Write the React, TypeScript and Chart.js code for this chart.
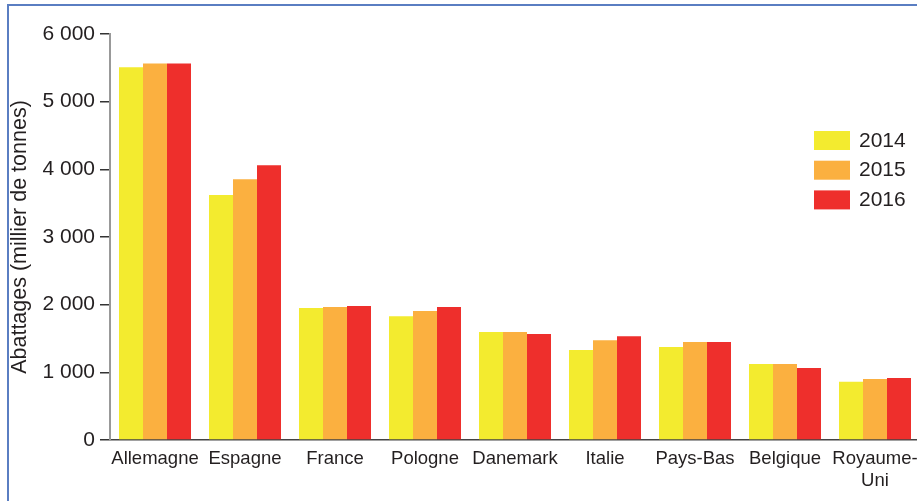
import React, { useEffect, useRef } from "react";
import { Chart, registerables } from "chart.js";

Chart.register(...registerables);

const categories: (string | string[])[] = [
  "Allemagne",
  "Espagne",
  "France",
  "Pologne",
  "Danemark",
  "Italie",
  "Pays-Bas",
  "Belgique",
  ["Royaume-", "Uni"],
];

const seriesLabels = ["2014", "2015", "2016"];
const values2014 = [5510, 3620, 1950, 1830, 1595, 1330, 1375, 1125, 860];
const values2015 = [5565, 3855, 1965, 1905, 1595, 1475, 1450, 1125, 900];
const values2016 = [5565, 4060, 1980, 1965, 1565, 1535, 1450, 1065, 915];
const seriesColors = ["#F3EB2F", "#FBB040", "#EE2F2C"];

const yTicks = [0, 1000, 2000, 3000, 4000, 5000, 6000];
const yTitle = "Abattages (millier de tonnes)";

const FONT = "'Liberation Sans', Arial, Helvetica, sans-serif";
const TEXT = "#231f20";

function fmt(v: number): string {
  const s = String(Math.round(v));
  return s.replace(/\B(?=(\d{3})+(?!\d))/g, " ");
}

const legendPlugin = {
  id: "insideLegend",
  afterDraw(chart: any) {
    const ctx = chart.ctx;
    ctx.save();
    const x = 814;
    const y0 = 131;
    const gap = 29.7;
    chart.data.datasets.forEach((ds: any, i: number) => {
      const y = y0 + i * gap;
      ctx.fillStyle = ds.backgroundColor;
      ctx.fillRect(x, y, 36, 19);
      ctx.fillStyle = TEXT;
      ctx.font = `21px ${FONT}`;
      ctx.textBaseline = "middle";
      ctx.textAlign = "left";
      ctx.fillText(ds.label, x + 45, y + 10);
    });
    ctx.restore();
  },
};

export default function App() {
  const ref = useRef<HTMLCanvasElement | null>(null);

  useEffect(() => {
    if (!ref.current) return;
    const allValues = [values2014, values2015, values2016];
    const chart = new Chart(ref.current, {
      type: "bar",
      data: {
        labels: categories,
        datasets: seriesLabels.map((label, i) => ({
          label,
          data: allValues[i],
          backgroundColor: seriesColors[i],
          borderWidth: 0,
          categoryPercentage: 0.8,
          barPercentage: 1.0,
        })),
      },
      options: {
        responsive: false,
        animation: false,
        layout: { padding: { top: 34, right: 10, left: 0, bottom: 0 } },
        plugins: {
          legend: { display: false },
          tooltip: { enabled: false },
        },
        scales: {
          x: {
            grid: { display: true, drawOnChartArea: false, drawTicks: false },
            border: { display: true, color: "#444", width: 1.5 },
            ticks: {
              color: TEXT,
              font: { family: FONT, size: 18.5 },
              padding: 8,
              maxRotation: 0,
              autoSkip: false,
            },
            afterFit: (s: any) => {
              s.height = 61;
            },
          },
          y: {
            min: 0,
            max: 6000,
            afterBuildTicks: (s: any) => {
              s.ticks = yTicks.map((v) => ({ value: v }));
            },
            grid: {
              display: true,
              drawOnChartArea: false,
              drawTicks: true,
              tickLength: 10,
              color: "#333",
              lineWidth: 1.5,
            },
            border: { display: true, color: "#999", width: 2 },
            ticks: {
              color: TEXT,
              font: { family: FONT, size: 21 },
              padding: 5,
              callback: (v: any) => fmt(Number(v)),
            },
            title: {
              display: true,
              text: yTitle,
              color: TEXT,
              font: { family: FONT, size: 21.5 },
              padding: { top: 7, bottom: 0 },
            },
            afterFit: (s: any) => {
              s.width = 110;
            },
          },
        },
      },
      plugins: [legendPlugin],
    });
    return () => chart.destroy();
  }, []);

  return (
    <div
      style={{
        position: "fixed",
        left: 0,
        top: 0,
        width: 917,
        height: 501,
        overflow: "hidden",
        background: "#fff",
      }}
    >
      <div
        style={{
          position: "absolute",
          left: 7,
          top: 4,
          width: 1000,
          height: 1000,
          borderLeft: "2px solid #5a7ec2",
          borderTop: "2px solid #5a7ec2",
        }}
      />
      <canvas
        ref={ref}
        width={930}
        height={501}
        style={{ position: "absolute", left: 0, top: 0, width: 930, height: 501 }}
      />
    </div>
  );
}
